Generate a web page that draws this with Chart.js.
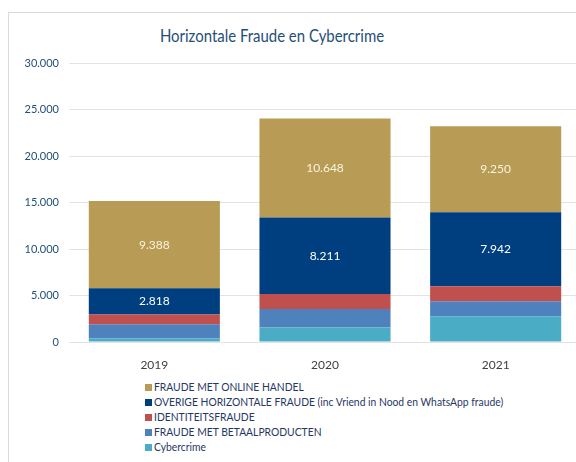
<!DOCTYPE html>
<html>
<head>
<meta charset="utf-8">
<script src="https://cdn.jsdelivr.net/npm/chart.js@4"></script>
<style>
  html, body { margin: 0; padding: 0; background: #fff; overflow: hidden; width: 576px; height: 462px; }
  #frame { position: absolute; left: 8px; top: 12px; width: 700px; height: 600px; border: 1px solid #d9d9d9; }
  #title { position: absolute; left: 0; width: 544px; top: 24px; text-align: center; font: 18px Lato, sans-serif; color: #1f4e79; transform: scaleX(0.83); }
  #wrap { position: absolute; left: 0; top: 0; width: 600px; height: 372px; }
  #legend { position: absolute; left: 145px; top: 379px; font: 12px Lato, sans-serif; color: #1f3864; }
  #legend div { height: 15.1px; line-height: 15.1px; white-space: nowrap; }
  #legend span { display: inline-block; width: 7px; height: 7px; margin-right: 2px; vertical-align: 0px; }
  #legend em { font-style: normal; display: inline-block; transform: scaleX(0.86); transform-origin: left center; }
</style>
</head>
<body>
<div id="frame"></div>
<div id="title">Horizontale Fraude en Cybercrime</div>
<div id="wrap"><canvas id="chart"></canvas></div>
<div id="legend"></div>
<script>
const years = ['2019', '2020', '2021'];
// stacked bottom to top
const seriesNames = [
  'Cybercrime',
  'FRAUDE MET BETAALPRODUCTEN',
  'IDENTITEITSFRAUDE',
  'OVERIGE HORIZONTALE FRAUDE (inc Vriend in Nood en WhatsApp fraude)',
  'FRAUDE MET ONLINE HANDEL'
];
const cybercrime = [370, 1550, 2770];
const betaalproducten = [1530, 2000, 1610];
const identiteitsfraude = [1050, 1620, 1620];
const overige = [2818, 8211, 7942];
const onlineHandel = [9388, 10648, 9250];
const colors = ['#4bacc6', '#4f81bd', '#c0504d', '#003f7f', '#b89b54'];
const labelled = [3, 4]; // series with value labels

const fmt = v => Math.round(v).toString().replace(/\B(?=(\d{3})+(?!\d))/g, '.');

const allValues = [cybercrime, betaalproducten, identiteitsfraude, overige, onlineHandel];

const datasets = allValues.map((vals, i) => ({
  label: seriesNames[i],
  data: vals,
  backgroundColor: colors[i],
  borderWidth: 0,
  categoryPercentage: 1,
  barPercentage: 0.768
}));

const valueLabels = {
  id: 'valueLabels',
  afterDatasetsDraw(chart) {
    const ctx = chart.ctx;
    ctx.save();
    ctx.font = '12px Lato, sans-serif';
    ctx.textAlign = 'center';
    ctx.textBaseline = 'middle';
    labelled.forEach(di => {
      ctx.fillStyle = di === 4 ? '#fbf3df' : '#ffffff';
      chart.getDatasetMeta(di).data.forEach((bar, j) => {
        const y = (bar.y + bar.base) / 2;
        ctx.fillText(fmt(chart.data.datasets[di].data[j]), bar.x, y);
      });
    });
    ctx.restore();
  }
};

new Chart(document.getElementById('chart'), {
  type: 'bar',
  data: { labels: years, datasets },
  options: {
    responsive: true,
    maintainAspectRatio: false,
    animation: false,
    layout: { padding: { top: 63, right: 19, left: 0, bottom: 0 } },
    plugins: {
      legend: { display: false },
      tooltip: { enabled: false }
    },
    scales: {
      x: {
        stacked: true,
        grid: { display: false },
        border: { display: false },
        ticks: { color: '#404040', font: { family: 'Lato', size: 12 }, padding: 8 },
        afterFit: s => { s.height = 30; }
      },
      y: {
        stacked: true,
        min: 0,
        max: 30000,
        ticks: {
          stepSize: 5000,
          color: '#1f4e79',
          font: { family: 'Lato', size: 11 },
          padding: 10,
          callback: v => fmt(v)
        },
        grid: { color: '#e3e3e3', drawTicks: false },
        border: { display: false },
        afterFit: s => { s.width = 69; }
      }
    }
  },
  plugins: [valueLabels]
});

const legend = document.getElementById('legend');
for (let i = seriesNames.length - 1; i >= 0; i--) {
  const row = document.createElement('div');
  const box = document.createElement('span');
  box.style.background = colors[i];
  const txt = document.createElement('em');
  txt.textContent = seriesNames[i];
  row.appendChild(box);
  row.appendChild(txt);
  legend.appendChild(row);
}
</script>
</body>
</html>
